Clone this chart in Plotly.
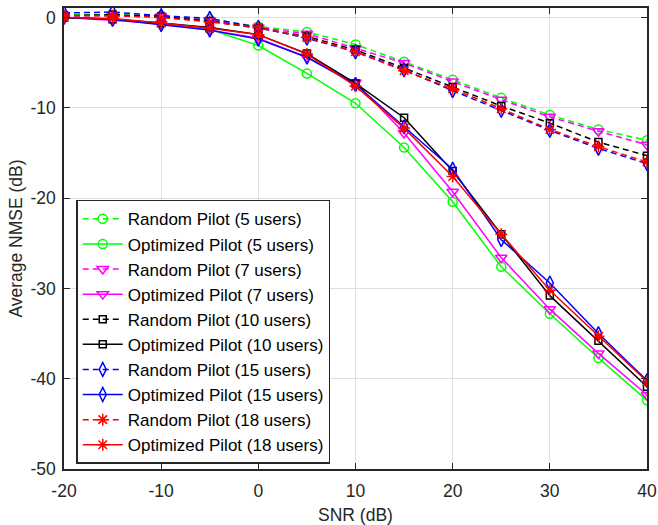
import plotly.graph_objects as go

snr = [-20, -15, -10, -5, 0, 5, 10, 15, 20, 25, 30, 35, 40]

rand_5 = [0.3, 0.3, 0.2, -0.2, -1.0, -1.6, -3.0, -4.9, -6.9, -8.9, -10.8, -12.4, -13.6]
opt_5 = [0.0, -0.2, -0.6, -1.3, -3.1, -6.2, -9.5, -14.4, -20.4, -27.6, -32.8, -37.7, -42.4]
rand_7 = [0.2, 0.2, 0.1, -0.3, -1.1, -1.8, -3.4, -5.05, -7.1, -9.1, -11.0, -12.6, -14.1]
opt_7 = [0.0, -0.3, -0.7, -1.4, -2.3, -4.4, -7.2, -12.8, -19.3, -26.6, -32.3, -37.2, -41.8]
rand_10 = [0.2, 0.3, 0.1, -0.4, -1.2, -2.1, -3.6, -5.6, -7.7, -9.8, -11.7, -13.8, -15.3]
opt_10 = [0.0, -0.2, -0.6, -1.1, -1.9, -4.0, -7.3, -11.1, -17.0, -24.0, -30.8, -35.8, -40.9]
rand_15 = [0.5, 0.6, 0.2, -0.1, -1.1, -2.3, -3.8, -5.8, -8.1, -10.3, -12.5, -14.5, -16.2]
opt_15 = [0.0, -0.2, -0.8, -1.4, -2.4, -4.4, -7.4, -12.1, -16.8, -24.6, -29.4, -35.0, -40.2]
rand_18 = [0.2, 0.2, 0.0, -0.5, -1.1, -2.2, -3.8, -5.9, -7.9, -10.1, -12.4, -14.3, -16.0]
opt_18 = [0.0, -0.1, -0.6, -1.2, -1.9, -4.05, -7.6, -12.25, -17.6, -24.0, -30.2, -35.3, -40.3]

users = ["5", "7", "10", "15", "18"]
rand_series = [rand_5, rand_7, rand_10, rand_15, rand_18]
opt_series = [opt_5, opt_7, opt_10, opt_15, opt_18]

x_tickvals = [-20, -10, 0, 10, 20, 30, 40]
x_ticktext = ["-20", "-10", "0", "10", "20", "30", "40"]
y_tickvals = [-50, -40, -30, -20, -10, 0]
y_ticktext = ["-50", "-40", "-30", "-20", "-10", "0"]

colors = ["#00ff00", "#ff00ff", "#000000", "#0000ff", "#ff0000"]
symbols = ["circle-open", "triangle-down-open", "square-open", "diamond-tall-open", "asterisk-open"]
msizes = [9, 10, 7, 10, 10]

FONT = "Liberation Sans, Arial, Helvetica, sans-serif"
TXT = "#262626"
FS = 17.5

fig = go.Figure()
for u, r, o, c, s, ms in zip(users, rand_series, opt_series, colors, symbols, msizes):
    fig.add_trace(go.Scatter(
        x=snr, y=r, mode="lines+markers", name=f"Random Pilot ({u} users)",
        line=dict(color=c, width=1.5, dash="6px,4px"),
        marker=dict(symbol=s, size=ms, color=c, line=dict(color=c, width=1.5)),
    ))
    fig.add_trace(go.Scatter(
        x=snr, y=o, mode="lines+markers", name=f"Optimized Pilot ({u} users)",
        line=dict(color=c, width=1.5),
        marker=dict(symbol=s, size=ms, color=c, line=dict(color=c, width=1.5)),
    ))

axis_common = dict(
    showgrid=True, gridcolor="#e0e0e0", gridwidth=1,
    showline=True, linecolor=TXT, linewidth=1.5, mirror="ticks",
    ticks="inside", ticklen=6, tickcolor=TXT, tickwidth=1,
    zeroline=False, automargin=False,
    tickfont=dict(family=FONT, size=FS, color=TXT),
    title_font=dict(family=FONT, size=FS, color=TXT),
)

fig.update_layout(
    width=658, height=525,
    margin=dict(l=64, r=11, t=8, b=56),
    paper_bgcolor="white", plot_bgcolor="white",
    font=dict(family=FONT, size=FS, color=TXT),
    xaxis=dict(range=[-20, 40], tickvals=x_tickvals, ticktext=x_ticktext,
               ticklabelstandoff=5,
               title=dict(text="SNR (dB)", standoff=11), **axis_common),
    yaxis=dict(range=[-50, 1.05], tickvals=y_tickvals, ticktext=y_ticktext,
               ticklabelstandoff=3,
               title=dict(text="Average NMSE (dB)", standoff=3), **axis_common),
    legend=dict(
        x=0.021, y=0.584, xanchor="left", yanchor="top",
        bgcolor="white", bordercolor=TXT, borderwidth=1.5,
        font=dict(family=FONT, size=17, color="#000000"),
        itemwidth=40, tracegroupgap=0,
    ),
    showlegend=True,
)

fig.write_html("out.html", post_script="document.body.style.margin='0';",
               config={"displayModeBar": False})
